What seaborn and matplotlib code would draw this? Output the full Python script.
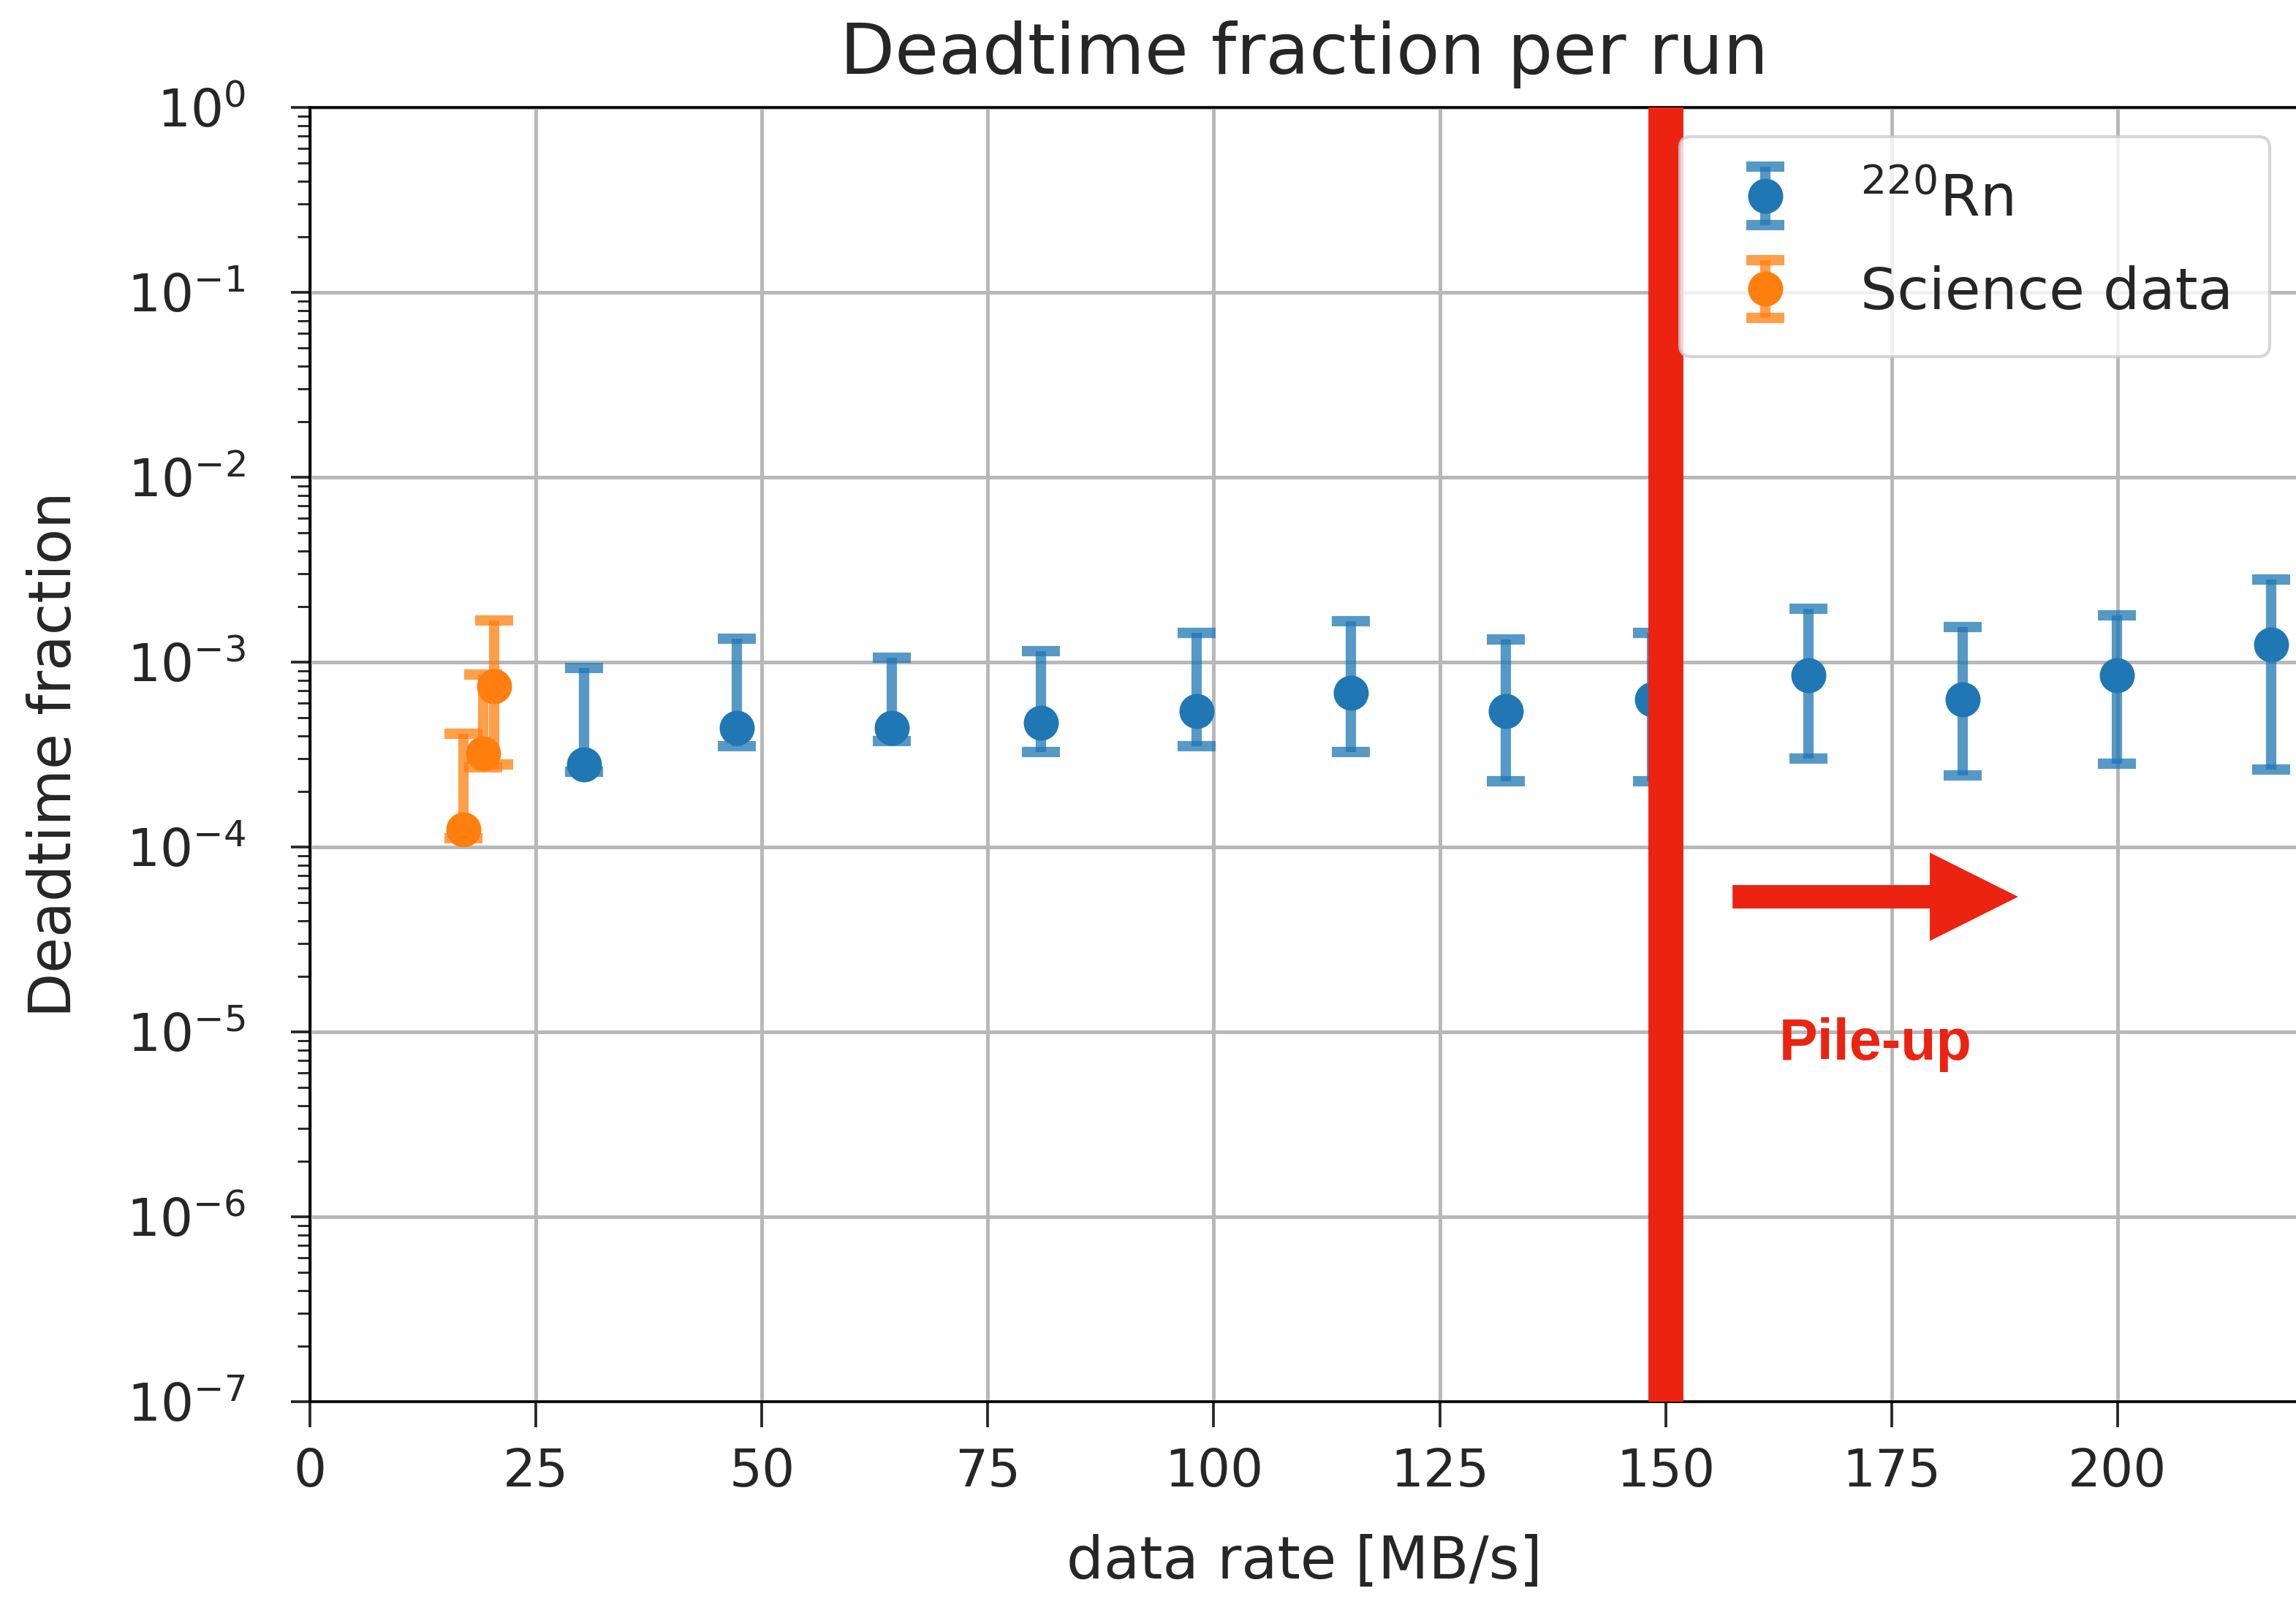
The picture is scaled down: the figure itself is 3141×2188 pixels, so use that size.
import matplotlib
matplotlib.use('Agg')
import matplotlib.pyplot as plt
import seaborn as sns

# 220Rn calibration runs
rn_rate = [30.3, 47.2, 64.4, 80.9, 98.1, 115.2, 132.3, 148.5, 165.8, 182.9, 199.9, 217.0]
rn_frac = [2.8e-4, 4.4e-4, 4.4e-4, 4.7e-4, 5.45e-4, 6.85e-4, 5.45e-4, 6.3e-4, 8.5e-4, 6.3e-4, 8.5e-4, 1.24e-3]
rn_hi = [9.3e-4, 1.34e-3, 1.06e-3, 1.15e-3, 1.44e-3, 1.66e-3, 1.33e-3, 1.44e-3, 1.94e-3, 1.55e-3, 1.79e-3, 2.8e-3]
rn_lo = [2.55e-4, 3.5e-4, 3.75e-4, 3.26e-4, 3.5e-4, 3.26e-4, 2.26e-4, 2.26e-4, 3.02e-4, 2.44e-4, 2.81e-4, 2.63e-4]

# science data runs
sci_rate = [17.0, 19.2, 20.4]
sci_frac = [1.24e-4, 3.2e-4, 7.4e-4]
sci_hi = [4.1e-4, 8.6e-4, 1.68e-3]
sci_lo = [1.12e-4, 2.7e-4, 2.8e-4]

pileup_rate = 150
RED = '#ec2311'

sns.set_style('ticks')
plt.rcParams['font.family'] = ['DejaVu Sans']
plt.rcParams['mathtext.fontset'] = 'dejavusans'

fig = plt.figure(figsize=(3141 / 300, 2188 / 300), dpi=300)
ax = fig.add_axes([0.135, 0.1234, 0.866, 0.8094])

groups = [
    ('$^{220}$Rn', rn_rate, rn_frac, rn_lo, rn_hi, '#1f77b4'),
    ('Science data', sci_rate, sci_frac, sci_lo, sci_hi, '#ff7f0e'),
]
for label, rate, frac, lo, hi, c in groups:
    yerr = [[f - l for f, l in zip(frac, lo)], [h - f for f, h in zip(frac, hi)]]
    eb = ax.errorbar(rate, frac, yerr=yerr, fmt='o', color=c, ms=10.5,
                     elinewidth=3.4, capsize=6.2, capthick=3.4, label=label, zorder=3)
    for art in eb[1] + eb[2]:
        art.set_alpha(0.75)
    sns.scatterplot(x=rate, y=frac, color=c, s=110, edgecolor='none',
                    ax=ax, zorder=4, legend=False)

ax.set_yscale('log')
ax.set_ylim(1e-7, 1)
ax.set_xlim(0, 220)
ax.set_xticks(range(0, 201, 25))
ax.grid(True, which='major', color='#b8b8b8', lw=1.2)
ax.spines['right'].set_visible(False)
for s in ax.spines.values():
    s.set_linewidth(0.9)
    s.set_color('black')

ax.tick_params(axis='x', which='major', length=8.4, width=0.9, pad=6.5, labelsize=17)
ax.tick_params(axis='y', which='major', length=6.2, width=0.9, pad=15, labelsize=17)
ax.tick_params(axis='y', which='minor', length=4.2, width=0.7)

ax.set_title('Deadtime fraction per run', fontsize=23.4, pad=11)
ax.set_xlabel('data rate [MB/s]', fontsize=19.3, labelpad=12)
ax.set_ylabel('Deadtime fraction', fontsize=19.1, labelpad=14)

ax.legend(loc='upper right', fontsize=19, borderpad=0.62, labelspacing=0.65,
          handlelength=1.7)

# pile-up marker
ax.axvline(pileup_rate, color=RED, lw=11.5, zorder=5)
ax.annotate('', xy=(189.0, 5.38e-5), xytext=(157.4, 5.38e-5),
            arrowprops=dict(facecolor=RED, edgecolor='none', width=7.7,
                            headwidth=29, headlength=29, shrink=0))
ax.text(173.2, 7.08e-6, 'Pile-up', color=RED, fontsize=19, fontweight='bold',
        family='Liberation Sans', ha='center', va='baseline')

fig.savefig('out.png', dpi=300)
